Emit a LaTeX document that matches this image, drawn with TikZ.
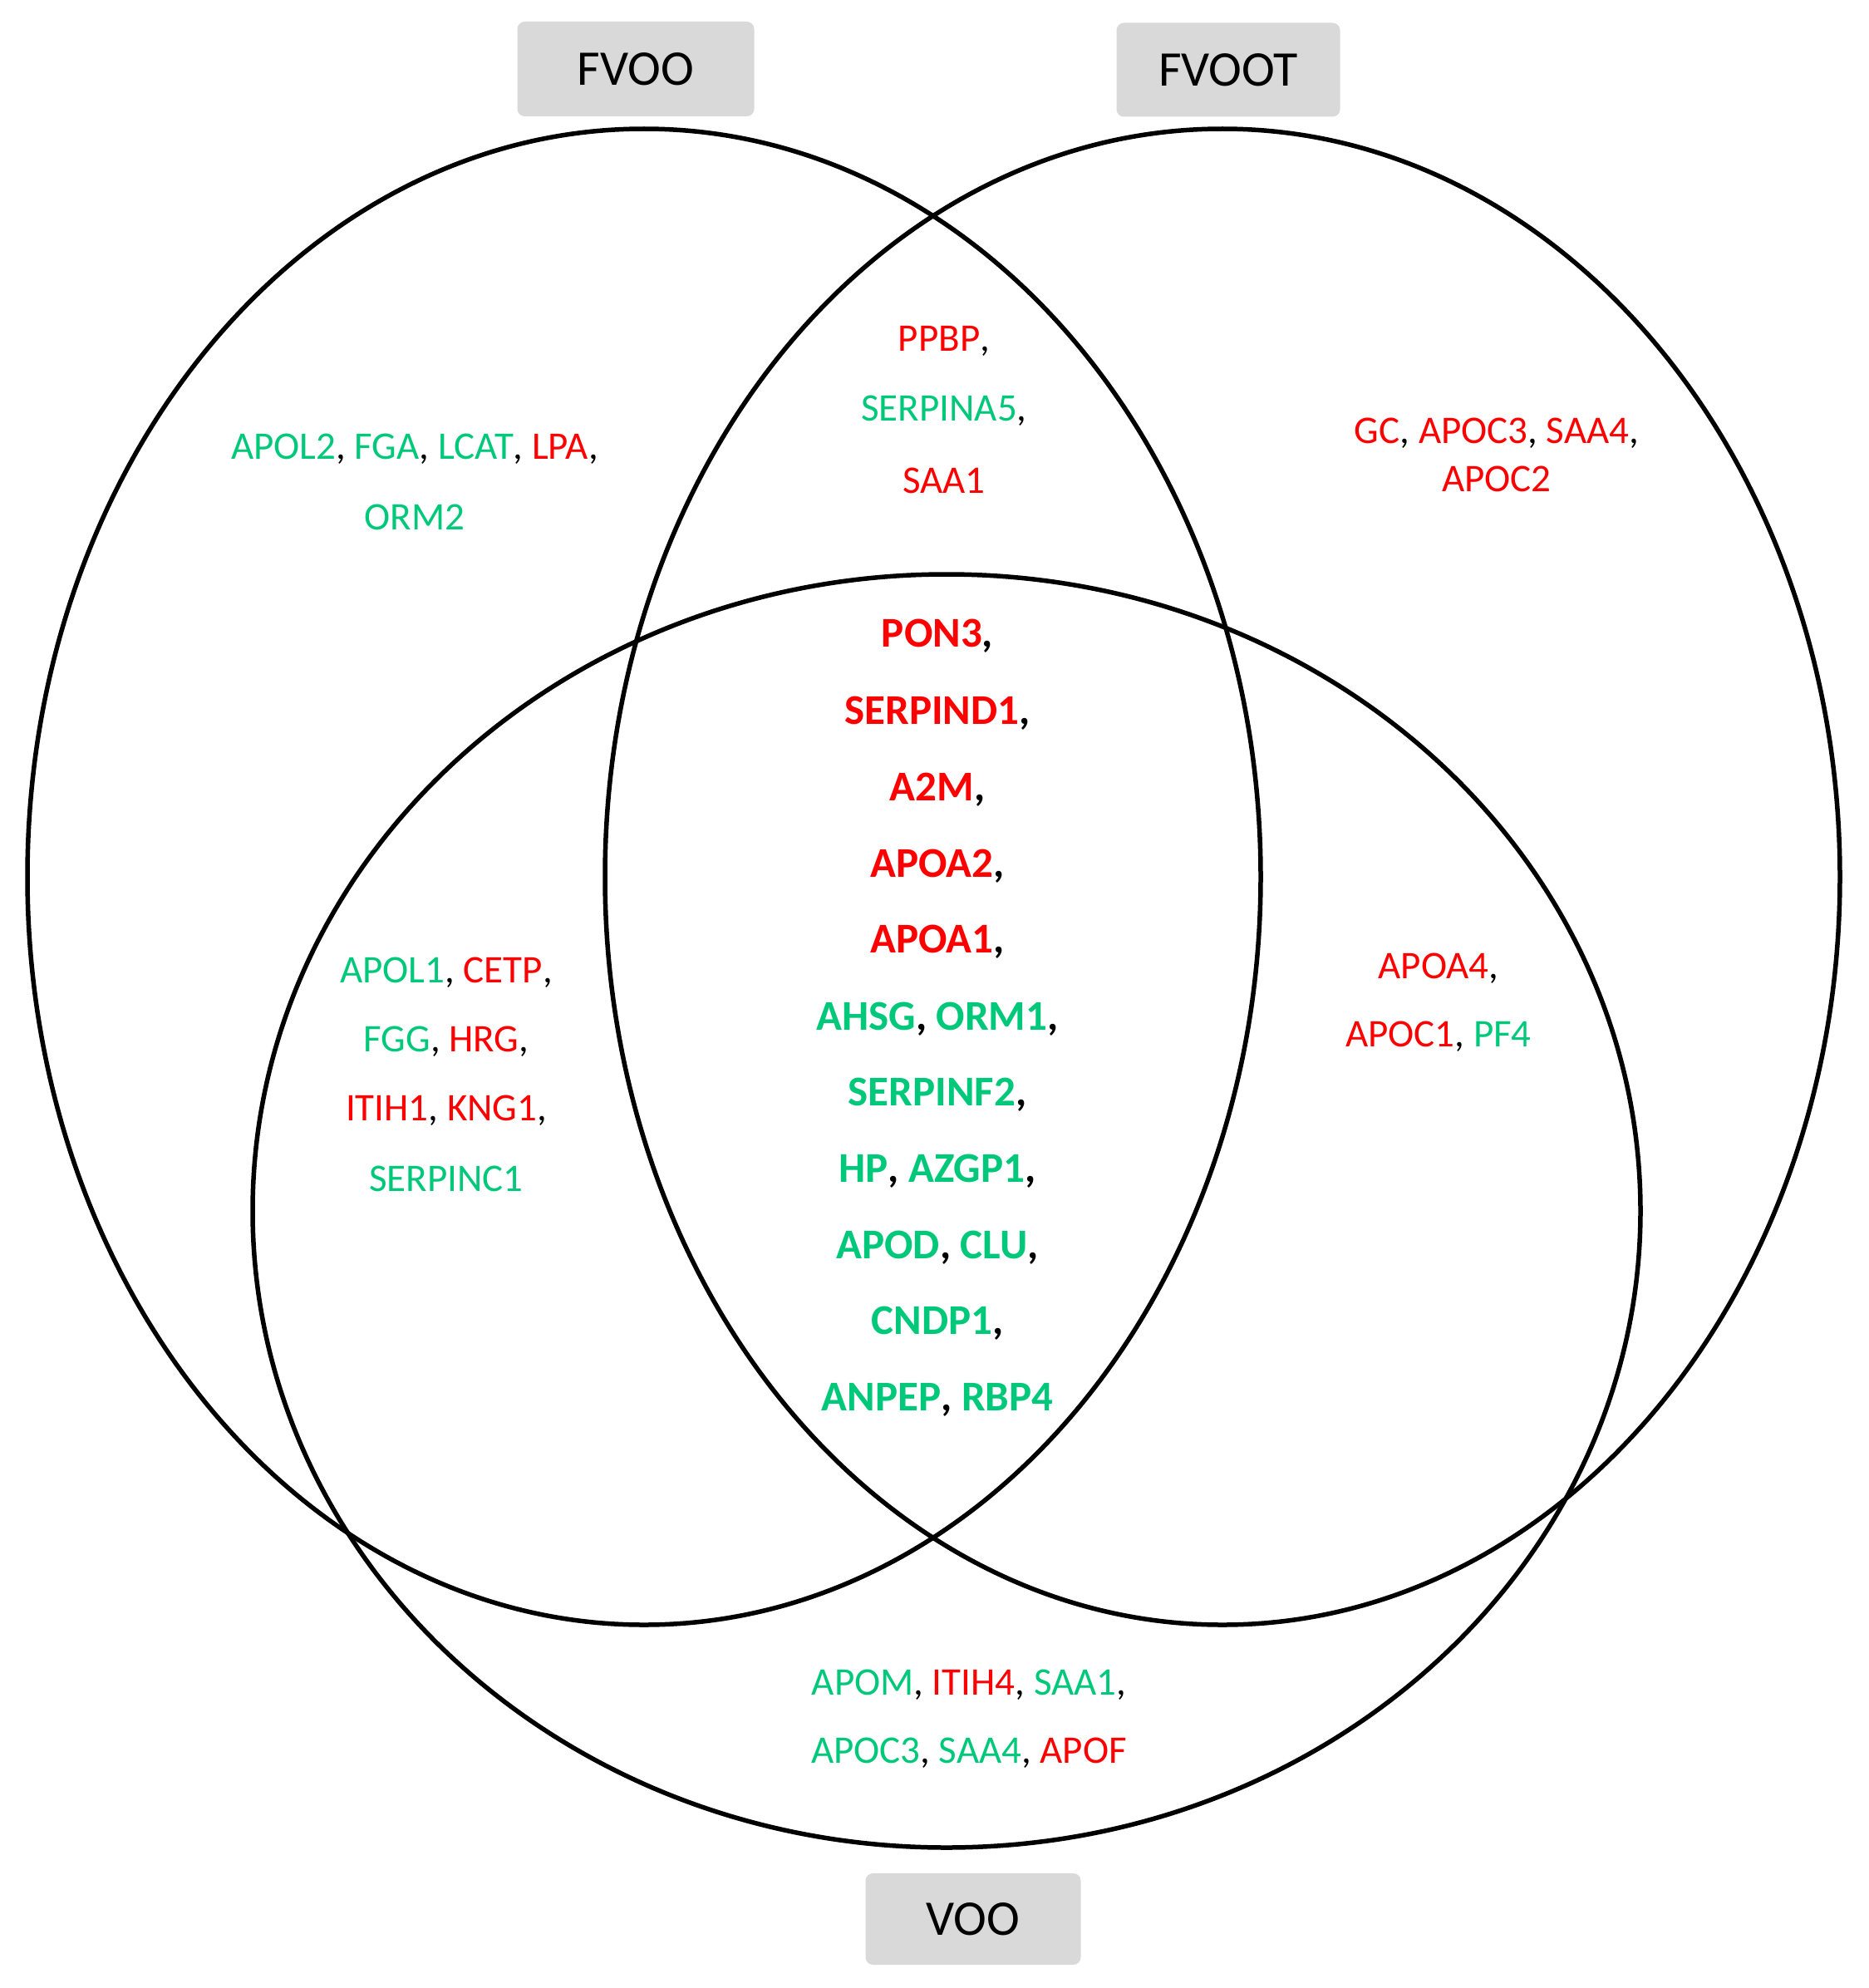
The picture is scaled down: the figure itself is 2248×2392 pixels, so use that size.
\documentclass[tikz,border=0pt]{standalone}
\usepackage{fontspec}
\setmainfont{Carlito}
\definecolor{gene green}{RGB}{0,200,122}
\definecolor{gene red}{RGB}{255,0,0}
\definecolor{box gray}{RGB}{217,217,217}
\newcommand{\GN}[1]{\textcolor{gene green}{#1}}
\newcommand{\RD}[1]{\textcolor{gene red}{#1}}
\tikzset{
  setring/.style={draw=black, line width=5.5pt},
  setlabel/.style={fill=box gray, rounded corners=9pt, inner sep=0pt,
    font=\fontsize{60}{70}\selectfont, text=black},
  genetext/.style={inner sep=0pt, font=\fontsize{47}{56}\selectfont},
  coretext/.style={inner sep=0pt, font=\fontsize{51}{60}\selectfont\bfseries}
}
\begin{document}
\begin{tikzpicture}[x=1pt,y=-1pt]
\useasboundingbox (0,0) rectangle (2248,2392);
% circles
\draw[setring] (775,1055) ellipse [x radius=742, y radius=900];
\draw[setring] (1471,1055) ellipse [x radius=743, y radius=900];
\draw[setring] (1139,1457) ellipse [x radius=835, y radius=766];
% set labels
\node[setlabel, minimum width=285pt, minimum height=114pt] (fvoo) at (765,83) {FVOO};
\node[setlabel, minimum width=269pt, minimum height=113pt] (fvoot) at (1478,84) {FVOOT};
\node[setlabel, minimum width=259pt, minimum height=110pt] (voo) at (1171,2309) {VOO};
% FVOO only
\node[genetext] (a1) at (499,540) {\GN{APOL2}, \GN{FGA}, \GN{LCAT}, \RD{LPA},};
\node[genetext] (a2) at (499,622) {\GN{ORM2}};
% FVOO and FVOOT
\node[genetext] (b1) at (1136,410) {\RD{PPBP},};
\node[genetext] (b2) at (1136,494) {\GN{SERPINA5},};
\node[genetext] (b3) at (1136,578) {\RD{SAA1}};
% FVOOT only
\node[genetext] (c1) at (1801,521) {\RD{GC}, \RD{APOC3}, \RD{SAA4},};
\node[genetext] (c2) at (1801,576) {\RD{APOC2}};
% all three
\node[coretext] (d1) at (1128,765) {\RD{PON3},};
\node[coretext] (d2) at (1128,858) {\RD{SERPIND1},};
\node[coretext] (d3) at (1128,950) {\RD{A2M},};
\node[coretext] (d4) at (1128,1042) {\RD{APOA2},};
\node[coretext] (d5) at (1128,1133) {\RD{APOA1},};
\node[coretext] (d6) at (1128,1226) {\GN{AHSG}, \GN{ORM1},};
\node[coretext] (d7) at (1128,1317) {\GN{SERPINF2},};
\node[coretext] (d8) at (1128,1409) {\GN{HP}, \GN{AZGP1},};
\node[coretext] (d9) at (1128,1501) {\GN{APOD}, \GN{CLU},};
\node[coretext] (d10) at (1128,1592) {\GN{CNDP1},};
\node[coretext] (d11) at (1128,1684) {\GN{ANPEP}, \GN{RBP4}};
% FVOO and VOO
\node[genetext] (e1) at (537,1170) {\GN{APOL1}, \RD{CETP},};
\node[genetext] (e2) at (537,1253) {\GN{FGG}, \RD{HRG},};
\node[genetext] (e3) at (537,1336) {\RD{ITIH1}, \RD{KNG1},};
\node[genetext] (e4) at (537,1418) {\GN{SERPINC1}};
% FVOOT and VOO
\node[genetext] (f1) at (1731,1165) {\RD{APOA4},};
\node[genetext] (f2) at (1731,1247) {\RD{APOC1}, \GN{PF4}};
% VOO only
\node[genetext] (g1) at (1166,2027) {\GN{APOM}, \RD{ITIH4}, \GN{SAA1},};
\node[genetext] (g2) at (1166,2109) {\GN{APOC3}, \GN{SAA4}, \RD{APOF}};
\end{tikzpicture}
\end{document}
